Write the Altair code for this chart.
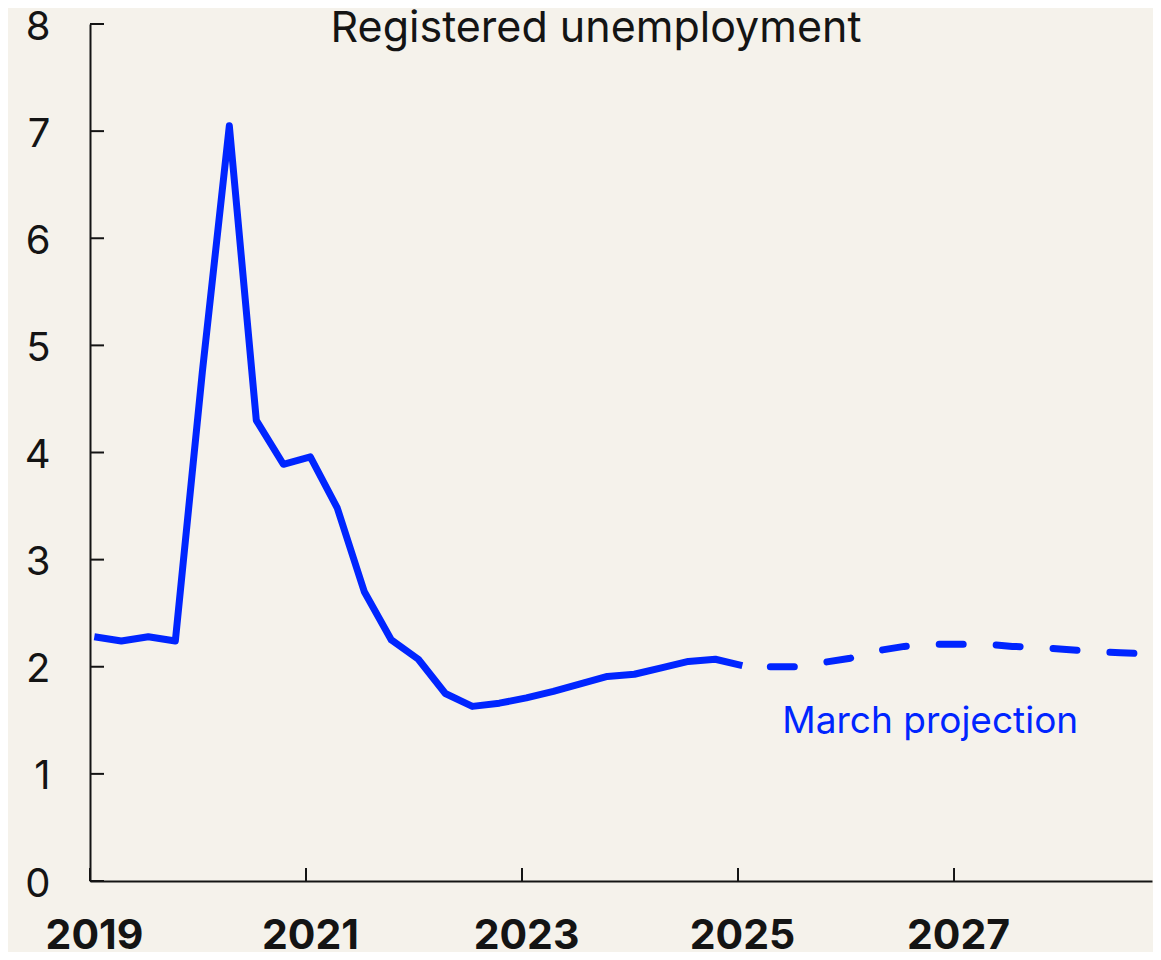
import altair as alt
import pandas as pd

# ---- data ----
hist_quarters = [
    "2019Q1", "2019Q2", "2019Q3", "2019Q4",
    "2020Q1", "2020Q2", "2020Q3", "2020Q4",
    "2021Q1", "2021Q2", "2021Q3", "2021Q4",
    "2022Q1", "2022Q2", "2022Q3", "2022Q4",
    "2023Q1", "2023Q2", "2023Q3", "2023Q4",
    "2024Q1", "2024Q2", "2024Q3", "2024Q4",
    "2025Q1",
]
hist_values = [
    2.28, 2.24, 2.28, 2.24,
    4.75, 7.05, 4.30, 3.89,
    3.96, 3.48, 2.70, 2.25,
    2.07, 1.75, 1.63, 1.66,
    1.71, 1.77, 1.84, 1.91,
    1.93, 1.99, 2.05, 2.07,
    2.01,
]
proj_quarters = [
    "2025Q1", "2025Q2", "2025Q3", "2025Q4",
    "2026Q1", "2026Q2", "2026Q3", "2026Q4",
    "2027Q1", "2027Q2", "2027Q3", "2027Q4",
    "2028Q1", "2028Q2", "2028Q3", "2028Q4",
]
proj_values = [
    2.01, 2.00, 2.00, 2.04,
    2.08, 2.15, 2.19, 2.21,
    2.21, 2.21, 2.19, 2.18,
    2.16, 2.145, 2.13, 2.12,
]
x_tick_years = [2019, 2021, 2023, 2025, 2027]
y_ticks = [0, 1, 2, 3, 4, 5, 6, 7, 8]
title_text = "Registered unemployment"
proj_label = "March projection"
proj_label_pos = (2025.41, 1.38)

BLUE = "#0025FF"
INK = "#141414"
BG = "#F5F2EB"
FONT = "Inter"


def qtime(q):
    year = int(q[:4])
    n = int(q[-1])
    return year + (n - 1) / 4 + 0.04


hist = pd.DataFrame({"t": [qtime(q) for q in hist_quarters], "v": hist_values})
proj = pd.DataFrame({"t": [qtime(q) for q in proj_quarters], "v": proj_values})

W, H = 1062, 857

xscale = alt.Scale(domain=[2019, 2028.833], nice=False, zero=False)
yscale = alt.Scale(domain=[0, 8], nice=False)

xaxis = alt.Axis(
    values=x_tick_years, format="d", ticks=False, grid=False,
    domainColor=INK, domainWidth=2,
    labelFont=FONT, labelFontSize=41, labelFontWeight="bold", labelColor=INK,
    labelPadding=35, labelOffset=4, labelFlush=False, title=None,
)
yaxis = alt.Axis(
    values=y_ticks, format="d", ticks=False, grid=False,
    domainColor=INK, domainWidth=2,
    labelFont=FONT, labelFontSize=40, labelColor=INK,
    labelPadding=40, labelOffset=3, labelFlush=False, title=None,
)

solid = alt.Chart(hist).mark_line(
    color=BLUE, strokeWidth=7, strokeJoin="round"
).encode(
    x=alt.X("t:Q", scale=xscale, axis=xaxis),
    y=alt.Y("v:Q", scale=yscale, axis=yaxis),
)

dashed = alt.Chart(proj).mark_line(
    color=BLUE, strokeWidth=7, strokeDash=[24, 33], strokeDashOffset=29,
    strokeCap="round", strokeJoin="round",
).encode(
    x=alt.X("t:Q", scale=xscale),
    y=alt.Y("v:Q", scale=yscale),
)

ytick_df = pd.DataFrame({"v": y_ticks})
yticks = alt.Chart(ytick_df).mark_rule(color=INK, strokeWidth=2).encode(
    y=alt.Y("v:Q", scale=yscale),
    x=alt.value(0),
    x2=alt.value(14),
)

xtick_df = pd.DataFrame({"t": x_tick_years})
xticks = alt.Chart(xtick_df).mark_rule(color=INK, strokeWidth=2).encode(
    x=alt.X("t:Q", scale=xscale),
    y=alt.value(H - 13),
    y2=alt.value(H),
)

title_df = pd.DataFrame({"s": [title_text]})
title = alt.Chart(title_df).mark_text(
    font=FONT, fontSize=43, color=INK, align="center", baseline="alphabetic"
).encode(
    text="s:N",
    x=alt.value(506),
    y=alt.value(18),
)

label_df = pd.DataFrame({"s": [proj_label], "t": [proj_label_pos[0]], "v": [proj_label_pos[1]]})
label = alt.Chart(label_df).mark_text(
    font=FONT, fontSize=37, color=BLUE, align="left", baseline="alphabetic"
).encode(
    text="s:N",
    x=alt.X("t:Q", scale=xscale),
    y=alt.Y("v:Q", scale=yscale),
)

chart = alt.layer(solid, dashed, yticks, xticks, title, label).properties(
    width=W, height=H,
    autosize=alt.AutoSizeParams(type="none"),
    padding={"left": 82, "top": 16, "right": 1, "bottom": 71},
).configure(
    background=BG,
).configure_view(stroke=None)

chart.save("out.html", embed_options={"renderer": "svg", "actions": False})
